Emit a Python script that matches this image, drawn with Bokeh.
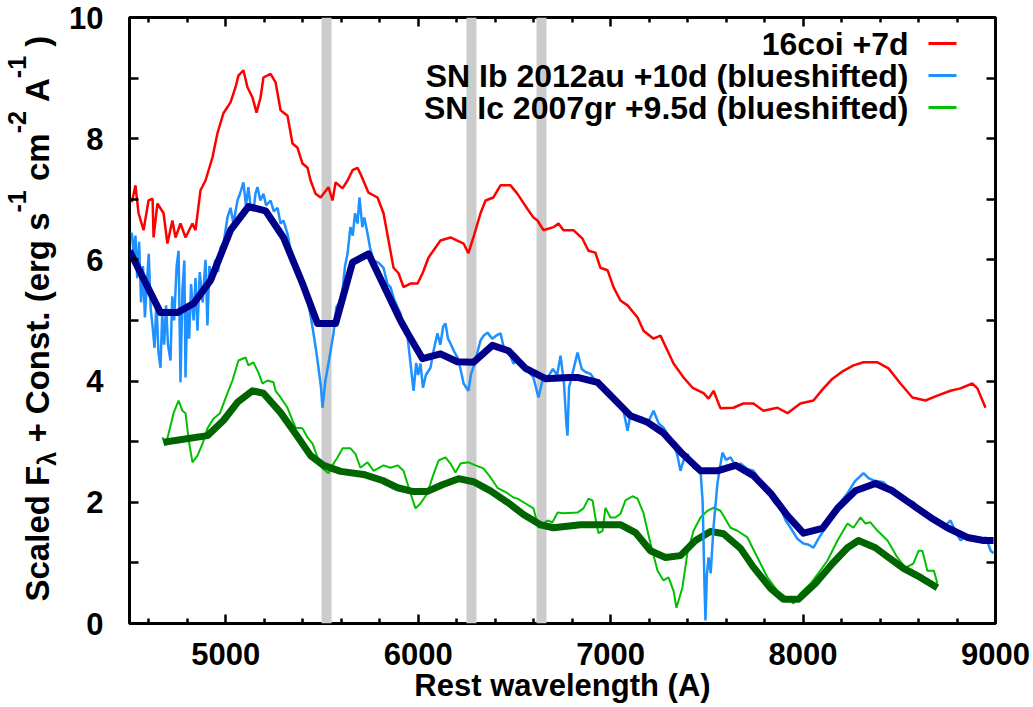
import math
from bokeh.plotting import figure
from bokeh.layouts import row
from bokeh.models import (Range1d, FixedTicker, LinearAxis, BoxAnnotation, Label,
                          CustomLabelingPolicy)
from bokeh.core.properties import value
from bokeh.embed import file_html
from bokeh.resources import INLINE

FONT = "Liberation Sans"

# ---------------- data ----------------
x_major = [5000, 6000, 7000, 8000, 9000]
x_minor = [4600, 4800, 5200, 5400, 5600, 5800, 6200, 6400, 6600, 6800,
           7200, 7400, 7600, 7800, 8200, 8400, 8600, 8800]
y_major = [0, 2, 4, 6, 8, 10]
y_minor = [1, 3, 5, 7, 9]

band_lo = [5498, 6251, 6615]
band_hi = [5550, 6303, 6667]

legend_labels = ["16coi +7d",
                 "SN Ib 2012au +10d (blueshifted)",
                 "SN Ic 2007gr +9.5d (blueshifted)"]

red_wl = [4512, 4531, 4547, 4573, 4599, 4620, 4625, 4645, 4677, 4697, 4723, 4739, 4765, 4791,
          4827, 4843, 4869, 4895, 4931, 4957, 4988, 5025, 5051, 5066, 5092, 5113, 5139, 5160,
          5181, 5196, 5233, 5259, 5285, 5321, 5347, 5373, 5399, 5425, 5441, 5467, 5493, 5534,
          5555, 5571, 5607, 5633, 5659, 5685, 5700, 5742, 5789, 5820, 5846, 5872, 5898, 5924,
          5960, 5997, 6023, 6054, 6116, 6168, 6236, 6261, 6287, 6324, 6350, 6391, 6428, 6480,
          6516, 6568, 6599, 6620, 6651, 6703, 6729, 6755, 6807, 6854, 6885, 6921, 6947, 6984,
          7015, 7051, 7088, 7140, 7171, 7223, 7259, 7296, 7327, 7379, 7426, 7483, 7509, 7535,
          7571, 7638, 7690, 7742, 7794, 7867, 7919, 7986, 8054, 8106, 8153, 8210, 8262, 8314,
          8387, 8444, 8506, 8568, 8636, 8698, 8766, 8818, 8880, 8906, 8948]
red_flux = [6.95, 7.23, 6.77, 6.49, 6.98, 7.01, 6.37, 6.93, 6.77, 6.27, 6.65, 6.37, 6.60, 6.37,
            6.60, 6.49, 7.15, 7.31, 7.69, 8.09, 8.42, 8.60, 8.85, 9.04, 9.13, 8.85, 8.68, 8.43,
            8.68, 9.01, 9.07, 8.93, 8.47, 8.38, 7.92, 7.85, 7.59, 7.52, 7.31, 7.09, 7.03, 7.20,
            6.98, 7.28, 7.18, 7.31, 7.48, 7.52, 7.42, 7.11, 7.03, 6.77, 6.32, 5.87, 5.78, 5.55,
            5.61, 5.61, 5.78, 6.04, 6.32, 6.37, 6.27, 6.11, 6.37, 6.77, 6.98, 7.03, 7.23, 7.23,
            7.09, 6.84, 6.70, 6.65, 6.49, 6.54, 6.60, 6.49, 6.49, 6.35, 6.15, 6.12, 5.87, 5.83,
            5.55, 5.33, 5.25, 5.05, 4.83, 4.70, 4.75, 4.50, 4.29, 4.06, 3.89, 3.80, 3.71, 3.84,
            3.55, 3.56, 3.63, 3.63, 3.51, 3.56, 3.47, 3.63, 3.68, 3.88, 4.04, 4.17, 4.26, 4.31,
            4.31, 4.21, 3.96, 3.73, 3.68, 3.76, 3.84, 3.88, 3.96, 3.88, 3.56]

blue_wl = [4512, 4522, 4531, 4540, 4550, 4560, 4570, 4580, 4590, 4600, 4610, 4620, 4630, 4640,
           4650, 4661, 4670, 4680, 4690, 4700, 4713, 4722, 4732, 4745, 4755, 4765, 4775, 4785,
           4791, 4800, 4810, 4820, 4833, 4843, 4853, 4865, 4880, 4895, 4905, 4915, 4930, 4945,
           4960, 4973, 4990, 5009, 5025, 5040, 5061, 5075, 5092, 5105, 5118, 5130, 5144, 5155,
           5165, 5180, 5196, 5210, 5233, 5250, 5269, 5285, 5300, 5321, 5335, 5352, 5370, 5389,
           5405, 5425, 5440, 5456, 5470, 5482, 5495, 5503, 5518, 5530, 5545, 5560, 5575, 5590,
           5607, 5620, 5633, 5648, 5660, 5672, 5685, 5695, 5710, 5720, 5737, 5750, 5768, 5795,
           5820, 5840, 5856, 5875, 5893, 5908, 5925, 5945, 5960, 5976, 5990, 6000, 6012, 6025,
           6040, 6064, 6080, 6100, 6115, 6130, 6142, 6155, 6168, 6185, 6204, 6220, 6236, 6261,
           6275, 6295, 6310, 6324, 6340, 6360, 6385, 6405, 6428, 6445, 6470, 6495, 6520, 6547,
           6575, 6599, 6625, 6645, 6672, 6700, 6722, 6740, 6758, 6770, 6776, 6784, 6800, 6828,
           6850, 6870, 6895, 6930, 6960, 6984, 7030, 7067, 7088, 7103, 7130, 7160, 7192, 7223,
           7250, 7275, 7300, 7327, 7345, 7363, 7380, 7399, 7431, 7467, 7478, 7488, 7493, 7500,
           7509, 7520, 7535, 7555, 7581, 7600, 7623, 7650, 7675, 7710, 7742, 7780, 7815, 7850,
           7882, 7910, 7935, 7970, 8002, 8030, 8054, 8080, 8106, 8130, 8158, 8195, 8231, 8270,
           8314, 8340, 8366, 8418, 8460, 8506, 8540, 8575, 8600, 8626, 8660, 8700, 8735, 8766,
           8795, 8818, 8850, 8885, 8920, 8950, 8975, 8990]
blue_flux = [6.45, 6.10, 6.40, 5.70, 6.30, 5.30, 5.90, 5.05, 5.60, 6.10, 5.20, 4.90, 4.55, 5.30,
             4.50, 4.22, 5.10, 4.60, 5.25, 4.60, 4.34, 5.40, 5.00, 5.90, 6.15, 3.98, 5.50, 5.99,
             4.06, 5.20, 4.70, 5.60, 5.00, 5.70, 4.83, 5.80, 5.30, 6.00, 4.92, 5.90, 5.70, 6.00,
             5.80, 6.20, 6.30, 6.70, 6.86, 6.60, 6.98, 7.10, 7.28, 6.90, 7.20, 6.85, 6.81, 7.10,
             7.20, 6.98, 7.09, 6.90, 6.98, 6.80, 6.86, 6.60, 6.65, 6.43, 6.20, 6.04, 5.80, 5.71,
             5.50, 5.33, 5.10, 4.79, 4.50, 4.22, 3.90, 3.56, 4.01, 4.22, 4.50, 4.79, 5.22, 5.30,
             5.50, 5.90, 6.10, 6.54, 6.40, 6.77, 6.60, 7.03, 6.54, 6.70, 6.43, 6.20, 5.99, 5.95,
             5.87, 5.60, 5.55, 5.35, 5.22, 5.12, 4.85, 4.72, 4.30, 3.84, 4.30, 4.10, 4.29, 3.89,
             4.10, 4.22, 4.50, 4.79, 4.60, 4.90, 4.95, 4.70, 4.62, 4.50, 4.39, 4.20, 3.96, 3.84,
             4.12, 4.30, 4.50, 4.67, 4.75, 4.80, 4.70, 4.75, 4.79, 4.55, 4.50, 4.29, 4.35, 4.29,
             4.15, 4.06, 3.73, 4.00, 4.06, 4.20, 4.10, 4.42, 3.95, 3.30, 3.10, 3.90, 4.10, 4.47,
             4.20, 4.15, 4.12, 3.96, 3.90, 3.84, 3.70, 3.51, 3.18, 3.45, 3.35, 3.40, 3.30, 3.51,
             3.30, 3.23, 3.10, 2.97, 2.80, 2.52, 2.70, 2.80, 2.57, 2.52, 2.03, 0.60, 0.05, 0.80,
             1.09, 0.83, 1.60, 2.31, 2.82, 2.70, 2.74, 2.60, 2.64, 2.55, 2.52, 2.35, 2.19, 2.00,
             1.91, 1.70, 1.58, 1.40, 1.32, 1.30, 1.25, 1.40, 1.53, 1.70, 1.86, 2.00, 2.15, 2.35,
             2.48, 2.40, 2.36, 2.33, 2.20, 2.08, 2.05, 2.00, 1.90, 1.86, 1.75, 1.70, 1.60, 1.70,
             1.50, 1.37, 1.45, 1.42, 1.37, 1.42, 1.20, 1.16]

navy_wl = [4500, 4661, 4749, 4833, 4921, 5025, 5118, 5207, 5300, 5399, 5477, 5571, 5659, 5742,
           5908, 5945, 6023, 6116, 6204, 6287, 6386, 6469, 6558, 6662, 6781, 6828, 6932, 7103,
           7192, 7275, 7373, 7467, 7555, 7649, 7742, 7831, 7919, 8002, 8101, 8179, 8272, 8376,
           8464, 8558, 8662, 8750, 8854, 8938, 8990]
navy_flux = [6.15, 5.13, 5.13, 5.28, 5.66, 6.49, 6.88, 6.81, 6.37, 5.61, 4.95, 4.95, 5.96, 6.10,
             5.00, 4.79, 4.37, 4.45, 4.32, 4.31, 4.59, 4.50, 4.21, 4.04, 4.06, 4.06, 3.98, 3.43,
             3.32, 3.14, 2.80, 2.52, 2.52, 2.61, 2.44, 2.15, 1.78, 1.49, 1.57, 1.90, 2.19, 2.31,
             2.19, 1.98, 1.75, 1.58, 1.42, 1.37, 1.37]

green_wl = [4671, 4687, 4703, 4729, 4755, 4775, 4791, 4808, 4827, 4853, 4880, 4905, 4936, 4970,
            5009, 5035, 5066, 5103, 5118, 5144, 5170, 5191, 5217, 5248, 5259, 5285, 5321, 5347,
            5363, 5399, 5425, 5451, 5477, 5503, 5534, 5560, 5581, 5607, 5648, 5674, 5700, 5737,
            5768, 5820, 5856, 5893, 5924, 5960, 5986, 6012, 6048, 6074, 6106, 6142, 6168, 6194,
            6220, 6261, 6298, 6339, 6376, 6412, 6464, 6495, 6516, 6558, 6599, 6625, 6650, 6672,
            6698, 6724, 6755, 6828, 6859, 6885, 6906, 6921, 6937, 6958, 6973, 6999, 7025, 7051,
            7077, 7114, 7140, 7171, 7207, 7244, 7275, 7301, 7327, 7342, 7373, 7399, 7431, 7467,
            7503, 7535, 7571, 7623, 7659, 7711, 7763, 7815, 7867, 7935, 7950, 7986, 8039, 8080,
            8127, 8179, 8231, 8262, 8298, 8324, 8350, 8387, 8439, 8490, 8532, 8573, 8600, 8620,
            8646, 8680, 8698]
green_flux = [3.07, 2.94, 3.13, 3.47, 3.68, 3.51, 3.47, 3.02, 2.66, 2.77, 2.97, 3.22, 3.38, 3.47,
              3.80, 4.01, 4.34, 4.39, 4.26, 4.31, 4.14, 3.96, 4.01, 3.98, 3.84, 3.73, 3.56, 3.35,
              3.23, 3.22, 3.07, 2.97, 2.74, 2.56, 2.48, 2.64, 2.74, 2.89, 2.89, 2.80, 2.57, 2.66,
              2.52, 2.61, 2.57, 2.61, 2.52, 2.15, 1.90, 1.98, 2.15, 2.41, 2.69, 2.74, 2.64, 2.49,
              2.64, 2.66, 2.61, 2.56, 2.41, 2.24, 2.15, 2.08, 2.06, 1.98, 1.90, 1.58, 1.65, 1.70,
              1.67, 1.83, 1.82, 1.83, 1.90, 2.06, 2.03, 1.75, 1.49, 1.53, 1.91, 1.75, 1.75, 1.81,
              2.03, 2.10, 2.06, 1.82, 1.32, 0.87, 0.71, 0.76, 0.54, 0.26, 0.59, 1.16, 1.53, 1.75,
              1.86, 1.91, 1.86, 1.58, 1.53, 1.42, 1.09, 0.76, 0.54, 0.38, 0.33, 0.50, 0.66, 0.83,
              1.04, 1.37, 1.65, 1.58, 1.75, 1.65, 1.67, 1.53, 1.37, 1.09, 0.92, 0.99, 1.20, 1.20,
              0.87, 0.87, 0.66]

dgreen_wl = [4677, 4905, 4988, 5061, 5139, 5196, 5285, 5363, 5441, 5508, 5597, 5716, 5815, 5893,
             5970, 6048, 6126, 6210, 6287, 6376, 6464, 6547, 6636, 6703, 6843, 7051, 7129, 7207,
             7285, 7363, 7441, 7519, 7587, 7675, 7742, 7831, 7898, 7976, 8064, 8153, 8231, 8288,
             8376, 8444, 8522, 8610, 8698]
dgreen_flux = [2.99, 3.10, 3.35, 3.65, 3.84, 3.80, 3.48, 3.13, 2.77, 2.61, 2.51, 2.46, 2.36, 2.24,
               2.18, 2.18, 2.29, 2.39, 2.34, 2.19, 2.00, 1.80, 1.63, 1.58, 1.63, 1.63, 1.50, 1.20,
               1.09, 1.12, 1.37, 1.52, 1.48, 1.24, 0.93, 0.58, 0.40, 0.40, 0.66, 0.99, 1.25, 1.37,
               1.25, 1.09, 0.91, 0.76, 0.59]

# ---------------- main figure ----------------
p = figure(width=973, height=707, x_range=Range1d(4500, 9000), y_range=Range1d(0, 10),
           output_backend="svg", toolbar_location=None,
           min_border_left=69, min_border_right=38, min_border_top=17, min_border_bottom=84)
p.xgrid.visible = False
p.ygrid.visible = False
p.background_fill_color = "white"
p.border_fill_color = "white"
p.outline_line_color = "black"
p.outline_line_width = 3
p.outline_line_alpha = 1.0

for lo, hi in zip(band_lo, band_hi):
    p.add_layout(BoxAnnotation(left=lo, right=hi, fill_color="#cccccc", fill_alpha=1.0,
                               line_color=None, level="underlay"))

hide_all = CustomLabelingPolicy(code="for (const i of indices) indices.unset(i)")


def style_axis(ax, ticker, minor_len, labels, standoff=0):
    ax.ticker = ticker
    ax.axis_line_color = None
    ax.major_tick_in = 9
    ax.major_tick_out = 0
    ax.minor_tick_in = minor_len
    ax.minor_tick_out = 0
    ax.major_tick_line_width = 2.5
    ax.minor_tick_line_width = 2.5
    ax.major_tick_line_color = "black"
    ax.minor_tick_line_color = "black"
    if labels:
        ax.major_label_text_font = FONT
        ax.major_label_text_font_style = "bold"
        ax.major_label_text_font_size = "31px"
        ax.major_label_text_color = "black"
        ax.major_label_standoff = standoff
    else:
        ax.major_label_policy = hide_all
        ax.major_label_text_font_size = "1px"
        ax.major_label_standoff = 0


bottom_ax = p.below[0]
left_ax = p.left[0]
style_axis(bottom_ax, FixedTicker(ticks=x_major, minor_ticks=x_minor), 5, True, 19)
style_axis(left_ax, FixedTicker(ticks=y_major, minor_ticks=y_minor), 9, True, 26)
bottom_ax.axis_label = "Rest wavelength (A)"
bottom_ax.axis_label_text_font = FONT
bottom_ax.axis_label_text_font_style = "bold"
bottom_ax.axis_label_text_font_size = "31px"
bottom_ax.axis_label_text_color = "black"
bottom_ax.axis_label_standoff = 0

top_ax = LinearAxis()
right_ax = LinearAxis()
style_axis(top_ax, FixedTicker(ticks=x_major, minor_ticks=x_minor), 5, False)
style_axis(right_ax, FixedTicker(ticks=y_major, minor_ticks=y_minor), 9, False)
p.add_layout(top_ax, "above")
p.add_layout(right_ax, "right")

# ---------------- curves ----------------
p.line(red_wl, red_flux, line_color="#ff0000", line_width=2.5)
p.line(green_wl, green_flux, line_color="#00c000", line_width=2)
p.line(dgreen_wl, dgreen_flux, line_color="#006400", line_width=7, line_join="round")
p.line(blue_wl, blue_flux, line_color="#1e90ff", line_width=2.5)
p.line(navy_wl, navy_flux, line_color="#00008b", line_width=7, line_join="round")

# ---------------- legend (gnuplot style: text then sample) ----------------
leg_colors = ["#ff0000", "#1e90ff", "#00c000"]
row_y = [580, 548, 516]
for txt, col, yy in zip(legend_labels, leg_colors, row_y):
    p.add_layout(Label(x=779, y=yy, x_units="screen", y_units="screen", text=txt,
                       text_font=FONT, text_font_style="bold", text_font_size="32px",
                       text_align="right", text_baseline="middle", text_color="black"))
    p.add_layout(BoxAnnotation(left=799, right=827, bottom=yy - 1.5, top=yy + 1.5,
                               left_units="screen", right_units="screen",
                               bottom_units="screen", top_units="screen",
                               fill_color=col, fill_alpha=1.0, line_color=None))

# ---------------- y-axis title (narrow figure, gnuplot-like sub/superscripts) ----
# frame of this figure spans the same pixel rows as the main frame; data y = 707 - pixel row
yt = figure(width=60, height=707, x_range=Range1d(0, 60), y_range=Range1d(84, 690),
            output_backend="svg", toolbar_location=None,
            x_axis_location=None, y_axis_location=None,
            min_border_left=0, min_border_right=0, min_border_top=17, min_border_bottom=84)
yt.outline_line_color = None
yt.background_fill_color = "white"
yt.border_fill_color = "white"
yt.grid.visible = False

W = {" ": 0.278, "S": 0.667, "c": 0.556, "a": 0.556, "l": 0.278, "e": 0.556, "d": 0.611,
     "F": 0.611, "+": 0.584, "C": 0.722, "o": 0.611, "n": 0.611, "s": 0.556, "t": 0.333,
     ".": 0.278, "(": 0.333, "r": 0.389, "g": 0.611, "m": 0.889, "A": 0.722, ")": 0.333,
     "-": 0.333, "1": 0.556, "2": 0.556, "λ": 0.56}
MAIN, SMALL = 33, 25
pieces = [("Scaled F", 0), ("λ", -1), (" + Const. (erg s", 0), ("-1", 1), (" cm", 0),
          ("-2", 1), (" A", 0), ("-1", 1), (" )", 0)]
center_x = {0: 36.5, -1: 46, 1: 16}
pos = 707 - 601.0
for t, kind in pieces:
    size = MAIN if kind == 0 else SMALL
    lead = len(t) - len(t.lstrip(" "))
    pos += lead * W[" "] * size
    s = t.strip(" ")
    yt.text(x=[center_x[kind]], y=[pos], text=[s], angle=math.pi / 2,
            text_font=value(FONT), text_font_style="bold",
            text_font_size=value(f"{size}px"), text_align="left",
            text_baseline="middle", text_color="black")
    pos += sum(W[c] for c in s) * size

layout = row(yt, p, spacing=0)
open("out.html", "w").write(file_html(layout, INLINE))
